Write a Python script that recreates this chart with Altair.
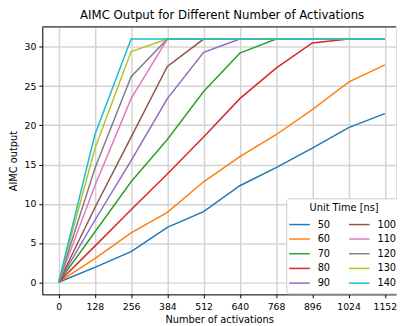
import altair as alt
import pandas as pd

activations = [0, 128, 256, 384, 512, 640, 768, 896, 1024, 1152]
unit_times = ["50", "60", "70", "80", "90", "100", "110", "120", "130", "140"]
series = {
    "50":  [0, 1.9, 3.9, 7.0, 9.0, 12.3, 14.6, 17.1, 19.7, 21.5],
    "60":  [0, 3.0, 6.3, 8.9, 12.8, 16.0, 18.8, 22.0, 25.5, 27.7],
    "70":  [0, 6.4, 12.8, 18.2, 24.3, 29.2, 31, 31, 31, 31],
    "80":  [0, 4.6, 9.25, 13.8, 18.5, 23.4, 27.3, 30.5, 31, 31],
    "90":  [0, 7.9, 15.5, 23.4, 29.3, 31, 31, 31, 31, 31],
    "100": [0, 9.5, 18.5, 27.5, 31, 31, 31, 31, 31, 31],
    "110": [0, 12.3, 23.4, 31, 31, 31, 31, 31, 31, 31],
    "120": [0, 14.5, 26.2, 31, 31, 31, 31, 31, 31, 31],
    "130": [0, 17.0, 29.4, 31, 31, 31, 31, 31, 31, 31],
    "140": [0, 18.8, 31, 31, 31, 31, 31, 31, 31, 31],
}
colors = ["#1f77b4", "#ff7f0e", "#2ca02c", "#d62728", "#9467bd",
          "#8c564b", "#e377c2", "#7f7f7f", "#bcbd22", "#17becf"]
x_ticks = [0, 128, 256, 384, 512, 640, 768, 896, 1024, 1152]
y_ticks = [0, 5, 10, 15, 20, 25, 30]

rows = []
for i, ut in enumerate(unit_times):
    for x, y in zip(activations, series[ut]):
        rows.append({"act": x, "out": y, "ut": ut, "order": i})
df = pd.DataFrame(rows)

W, H = 361, 273
FONT = "DejaVu Sans"

lines = alt.Chart(df).mark_line(strokeWidth=1.5, clip=True).encode(
    x=alt.X("act:Q", title="Number of activations",
            scale=alt.Scale(domain=[-57.6, 1191.5], nice=False, zero=False),
            axis=alt.Axis(values=x_ticks, format="d", grid=True, gridColor="#d4d4d4",
                          gridWidth=1.5, domainColor="black", domainWidth=1,
                          tickColor="black", tickSize=3.5, labelPadding=4,
                          labelFontSize=9.5, labelColor="black", titleFontSize=10,
                          titleColor="black", titleFontWeight="normal",
                          titlePadding=4, labelFlush=False)),
    y=alt.Y("out:Q", title="AIMC output",
            scale=alt.Scale(domain=[-1.55, 32.55], nice=False, zero=False),
            axis=alt.Axis(values=y_ticks, grid=True, gridColor="#d4d4d4", gridWidth=1.5,
                          domainColor="black", domainWidth=1, tickColor="black",
                          tickSize=3.5, labelPadding=3, labelFontSize=9.5,
                          labelColor="black", titleFontSize=10, titleColor="black",
                          titleFontWeight="normal", titlePadding=6)),
    color=alt.Color("ut:N", sort=unit_times,
                    scale=alt.Scale(domain=unit_times, range=colors),
                    legend=alt.Legend(title="Unit Time [ns]", columns=2, orient="none",
                                      legendX=249, legendY=175, direction="vertical",
                                      symbolType="M-1.4,0H1.4", symbolSize=225,
                                      symbolStrokeWidth=1.5, labelFontSize=10,
                                      titleFontSize=10, titleFontWeight="normal",
                                      titleAnchor="middle", titleColor="black",
                                      labelColor="black", fillColor="white",
                                      strokeColor="#cccccc", cornerRadius=3,
                                      padding=5, rowPadding=1, columnPadding=16,
                                      labelOffset=10, titlePadding=3)),
    order="order:Q",
)

top_border = alt.Chart(pd.DataFrame({"a": [0]})).mark_rule(color="black", strokeWidth=1).encode(
    x=alt.value(0), x2=alt.value(W), y=alt.value(0)
)

chart = alt.layer(lines, top_border).properties(
    width=W, height=H,
    title=alt.TitleParams("AIMC Output for Different Number of Activations",
                          fontSize=12, fontWeight="normal", color="black",
                          anchor="middle", offset=5, dx=3),
    autosize=alt.AutoSizeParams(type="none"),
    padding={"left": 35, "top": 16, "right": 1, "bottom": 29},
).configure_view(stroke=None).configure(font=FONT)

chart.save("out.html", embed_options={"renderer": "svg", "actions": False})
